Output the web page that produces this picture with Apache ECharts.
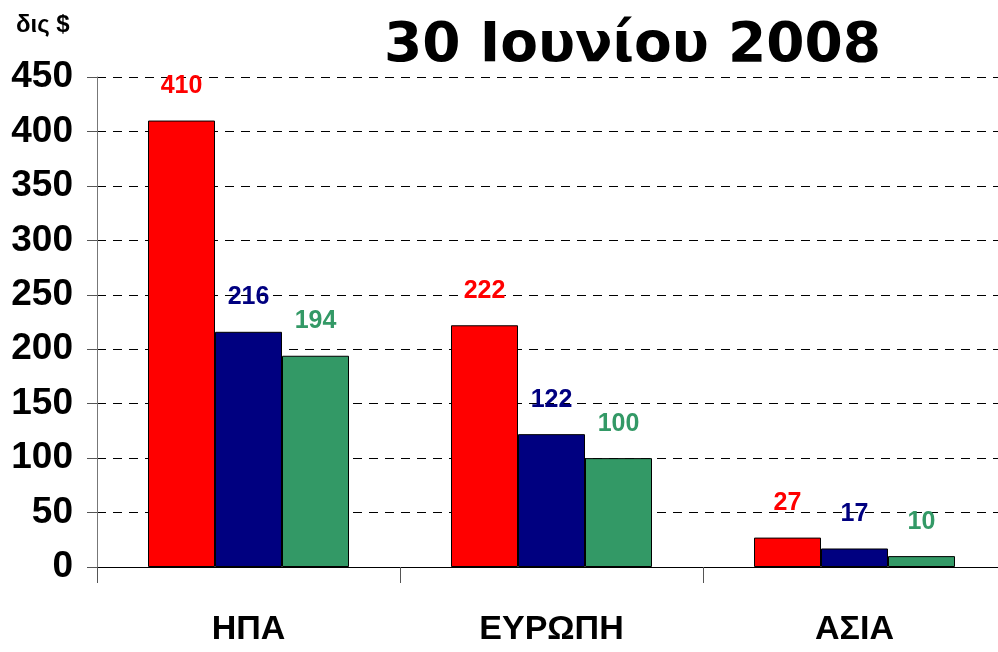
<!DOCTYPE html>
<html><head><meta charset="utf-8">
<script src="https://cdn.jsdelivr.net/npm/echarts@6/dist/echarts.min.js"></script>
<style>html,body{margin:0;padding:0;background:#fff}#c{width:998px;height:652px}</style>
</head><body><div id="c"></div>
<script>
const categories = ['ΗΠΑ', 'ΕΥΡΩΠΗ', 'ΑΣΙΑ'];
const seriesA = [410, 222, 27];
const seriesB = [216, 122, 17];
const seriesC = [194, 100, 10];
const yTicks = {min: 0, max: 450, interval: 50};
const titleText = '30 Ιουνίου 2008';
const unitText = 'δις $';

const narrow = "'Liberation Sans Narrow', 'Arial Narrow', 'Liberation Sans', Arial, sans-serif";
const colors = ['#FF0000', '#000080', '#339966'];

function mkSeries(data, i) {
  return {
    type: 'bar', data: data, barWidth: 67, barGap: '0%',
    itemStyle: {color: colors[i], borderColor: '#000', borderWidth: 1},
    label: {show: true, position: 'top', distance: 22, color: colors[i],
      fontFamily: narrow, fontWeight: 'bold', fontSize: 25}
  };
}

const chart = echarts.init(document.getElementById('c'), null, {renderer: 'canvas'});
chart.setOption({
  animation: false,
  backgroundColor: '#fff',
  graphic: [
    {type: 'text', left: 16, top: 13, style: {text: unitText, fontFamily: narrow, fontWeight: 'bold', fontSize: 24, fill: '#000'}},
    {type: 'text', left: 384, top: 19, style: {text: titleText, fontFamily: "'DejaVu Sans', Verdana, sans-serif", fontWeight: 'bold', fontSize: 55, fill: '#000'}}
  ],
  grid: {left: 97, top: 77, bottom: 85, right: -8, containLabel: false, outerBoundsMode: 'none'},
  xAxis: {
    type: 'category', data: categories,
    axisLine: {show: true, lineStyle: {color: '#000', width: 1}},
    axisTick: {show: true, length: 16, lineStyle: {color: '#555'}},
    axisLabel: {margin: 46, fontFamily: narrow, fontWeight: 'bold', fontSize: 34, color: '#000'}
  },
  yAxis: {
    type: 'value', min: yTicks.min, max: yTicks.max, interval: yTicks.interval,
    axisLine: {show: true, lineStyle: {color: '#777', width: 1}},
    axisTick: {show: true, length: 10, lineStyle: {color: '#555'}},
    axisLabel: {margin: 24, fontFamily: narrow, fontWeight: 'bold', fontSize: 37, color: '#000'},
    splitLine: {show: true, lineStyle: {color: '#000', type: [9, 7], width: 1}}
  },
  series: [mkSeries(seriesA, 0), mkSeries(seriesB, 1), mkSeries(seriesC, 2)]
});
</script></body></html>
